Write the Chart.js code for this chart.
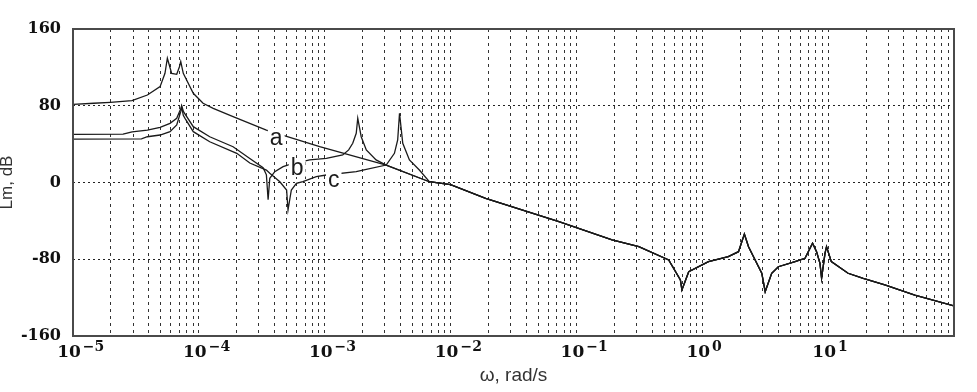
<!DOCTYPE html>
<html>
<head>
<meta charset="utf-8">
<script src="https://cdn.jsdelivr.net/npm/chart.js@4.4.1/dist/chart.umd.min.js"></script>
<style>
  html, body { margin: 0; padding: 0; background: #fff; }
</style>
</head>
<body>
<canvas id="bodeChart" width="977" height="392"></canvas>
<script>
// frequency (rad/s) and magnitude (dB)
const aW = [1e-5, 1.46e-5, 1.98e-5, 2.94e-5, 3.9e-5, 4.92e-5, 5.38e-5, 5.62e-5, 5.82e-5, 6.08e-5, 6.67e-5, 7.0e-5, 7.18e-5, 7.52e-5, 7.76e-5, 9.03e-5, 1.08e-4, 1.3e-4, 1.87e-4, 3.44e-4, 9.12e-4, 3.08e-3, 6.78e-3];
const aDb = [81.5, 82.6, 83.6, 85.3, 91.2, 99.9, 113.8, 129.5, 122.5, 113.8, 112.8, 120.4, 126, 113.8, 110.3, 93, 82.6, 77.3, 68.6, 54.7, 37.3, 18.2, 0.8];

const bW = [1e-5, 2.5e-5, 2.95e-5, 3.9e-5, 4.92e-5, 5.9e-5, 6.67e-5, 7.18e-5, 7.3e-5, 7.55e-5, 9.03e-5, 1.22e-4, 1.87e-4, 2.54e-4, 3.24e-4, 3.44e-4, 3.55e-4, 3.66e-4, 4.01e-4, 4.67e-4, 5.3e-4, 7.6e-4, 1.03e-3, 1.39e-3, 1.55e-3, 1.67e-3, 1.78e-3, 1.83e-3, 1.95e-3, 2.14e-3, 2.56e-3, 3.08e-3, 6.78e-3];
const bDb = [50.2, 50.4, 52.8, 54.5, 57.5, 61.7, 66.9, 77, 80, 73.8, 58.2, 47.7, 37.3, 25, 15.5, 8, -18, 4.4, 11.3, 16.5, 19, 23.5, 25.2, 28.7, 34, 40.9, 51.3, 67, 47.7, 33.9, 23.5, 18.2, 0.8];

const cW = [1e-5, 3.5e-5, 3.9e-5, 4.92e-5, 5.9e-5, 6.67e-5, 7.18e-5, 7.3e-5, 7.52e-5, 7.76e-5, 9.03e-5, 1.22e-4, 2.0e-4, 2.54e-4, 3.44e-4, 3.66e-4, 4.4e-4, 4.98e-4, 5.11e-4, 5.43e-4, 5.96e-4, 6.71e-4, 8.57e-4, 1.03e-3, 1.78e-3, 2.01e-3, 3.08e-3, 3.58e-3, 3.8e-3, 3.93e-3, 4.17e-3, 4.71e-3, 5.65e-3, 6.78e-3];
const cDb = [45.3, 45.5, 47.7, 49.5, 53, 60, 73.8, 79, 70, 66.9, 53, 42.5, 30.4, 20.3, 13, 9.6, 0.8, -7.8, -28.7, -7.8, -0.8, 0.8, 6.1, 7.8, 11.3, 13, 18.2, 30.4, 44.3, 72.1, 40.9, 23.5, 13, 0.8];

// above ~1e-2 the three curves lie on top of each other
const tailW = [1e-2, 1.9e-2, 7.26e-2, 0.192, 0.313, 0.541, 0.67, 0.689, 0.78, 1.12, 1.61, 1.94, 2.16, 2.33, 2.63, 2.97, 3.16, 3.56, 4.02, 5.46, 6.55, 7.52, 8.09, 8.61, 8.87, 9.44, 9.71, 10.6, 14.4, 19.0, 28.2, 48.8, 100];
const tailDb = [-2.3, -16.5, -40.9, -59.9, -66.9, -80.8, -101.6, -112, -93, -82.5, -77.3, -72.1, -53.7, -66.9, -80.8, -94.6, -113.8, -94.6, -87.8, -82.5, -79, -63.4, -72.1, -84.2, -99.8, -73.8, -66.9, -82.5, -94.6, -99.9, -106.8, -117.3, -128.7];

// curve names and where they sit on the plot (baseline, in data units)
const curveNames = ["a", "b", "c"];
const nameW = [4.12e-4, 6.04e-4, 1.18e-3];
const nameDb = [39.1, 7.8, -4.7];

// axes
const decades = [1e-5, 1e-4, 1e-3, 1e-2, 1e-1, 1, 10, 100];
const decadeExp = ["\u22125", "\u22124", "\u22123", "\u22122", "\u22121", "0", "1", ""];
const gridSteps = [1, 2, 3, 4, 5, 6, 7, 8, 9];
const yTicks = [-160, -80, 0, 80, 160];

function toPoints(ws, dbs) {
  return ws.map((w, i) => ({ x: w, y: dbs[i] }));
}

const curves = [
  toPoints(aW.concat(tailW), aDb.concat(tailDb)),
  toPoints(bW.concat(tailW), bDb.concat(tailDb)),
  toPoints(cW.concat(tailW), cDb.concat(tailDb)),
];

// dark frame round the plot area
const framePlugin = {
  id: "frame",
  afterDatasetsDraw(chart) {
    const { ctx, chartArea: a } = chart;
    ctx.save();
    ctx.strokeStyle = "#4a4a4a";
    ctx.lineWidth = 2;
    ctx.strokeRect(a.left, a.top, a.right - a.left, a.bottom - a.top);
    ctx.restore();
  },
};

// the a / b / c names written on top of their curves
const curveNamePlugin = {
  id: "curveNames",
  afterDatasetsDraw(chart) {
    const { ctx, scales } = chart;
    const size = 23;
    ctx.save();
    ctx.font = size + 'px "Liberation Sans", Arial, sans-serif';
    ctx.textAlign = "center";
    ctx.textBaseline = "alphabetic";
    curveNames.forEach((name, i) => {
      const px = scales.x.getPixelForValue(nameW[i]);
      const py = scales.y.getPixelForValue(nameDb[i]);
      const w = ctx.measureText(name).width;
      ctx.fillStyle = "#fff";
      ctx.fillRect(px - w / 2 - 2, py - size * 0.74, w + 4, size * 0.74 + 2);
      ctx.fillStyle = "#1a1a1a";
      ctx.fillText(name, px, py);
    });
    ctx.restore();
  },
};

// decade labels as 10 with a raised exponent
const decadeLabelPlugin = {
  id: "decadeLabels",
  afterDraw(chart) {
    const { ctx, scales, chartArea } = chart;
    const base = chartArea.bottom + 21;
    ctx.save();
    ctx.fillStyle = "#111";
    ctx.textBaseline = "alphabetic";
    decades.forEach((d, i) => {
      if (!decadeExp[i]) return;
      const px = scales.x.getPixelForValue(d);
      ctx.font = 'bold 17px "DejaVu Serif", serif';
      ctx.textAlign = "center";
      ctx.fillText("10", px - 4, base);
      const w = ctx.measureText("10").width;
      ctx.font = 'bold 14px "DejaVu Serif", serif';
      ctx.textAlign = "left";
      ctx.fillText(decadeExp[i], px - 4 + w / 2 + 2, base - 6);
    });
    ctx.restore();
  },
};

const ctx = document.getElementById("bodeChart").getContext("2d");
new Chart(ctx, {
  type: "scatter",
  data: {
    datasets: curves.map((pts, i) => ({
      label: curveNames[i],
      data: pts,
      showLine: true,
      borderColor: "#1a1a1a",
      borderWidth: 1.3,
      pointRadius: 0,
      tension: 0,
      fill: false,
    })),
  },
  options: {
    responsive: false,
    animation: false,
    layout: { padding: { top: 29, right: 23, left: 0, bottom: 0 } },
    plugins: {
      legend: { display: false },
      tooltip: { enabled: false },
    },
    scales: {
      x: {
        type: "logarithmic",
        min: 1e-5,
        max: 100,
        afterBuildTicks: (scale) => {
          const ticks = [];
          decades.forEach((d) => {
            gridSteps.forEach((k) => {
              if (d * k <= 100.0001) ticks.push({ value: d * k });
            });
          });
          scale.ticks = ticks;
        },
        afterFit: (scale) => {
          scale.height = 56;
        },
        ticks: {
          autoSkip: false,
          maxRotation: 0,
          minRotation: 0,
          callback: () => "",
        },
        grid: { color: "#333", lineWidth: 1, drawTicks: false },
        border: { display: false, dash: [3, 4] },
        title: {
          display: true,
          text: "\u03C9, rad/s",
          color: "#333",
          font: { family: '"Liberation Sans", Arial, sans-serif', size: 19 },
          padding: { top: 0, bottom: 5 },
        },
      },
      y: {
        min: -160,
        max: 160,
        afterBuildTicks: (scale) => {
          scale.ticks = yTicks.map((v) => ({ value: v }));
        },
        afterFit: (scale) => {
          scale.width = 73;
        },
        ticks: {
          padding: 12,
          color: "#111",
          font: { family: '"DejaVu Serif", serif', size: 16, weight: "bold" },
        },
        grid: { color: "#222", lineWidth: 1, drawTicks: false },
        border: { display: false, dash: [2, 3] },
        title: {
          display: true,
          text: "Lm, dB",
          color: "#333",
          font: { family: '"Liberation Sans", Arial, sans-serif', size: 17, lineHeight: 0.9 },
          padding: { top: 0, bottom: 0 },
        },
      },
    },
  },
  plugins: [curveNamePlugin, framePlugin, decadeLabelPlugin],
});
</script>
</body>
</html>
